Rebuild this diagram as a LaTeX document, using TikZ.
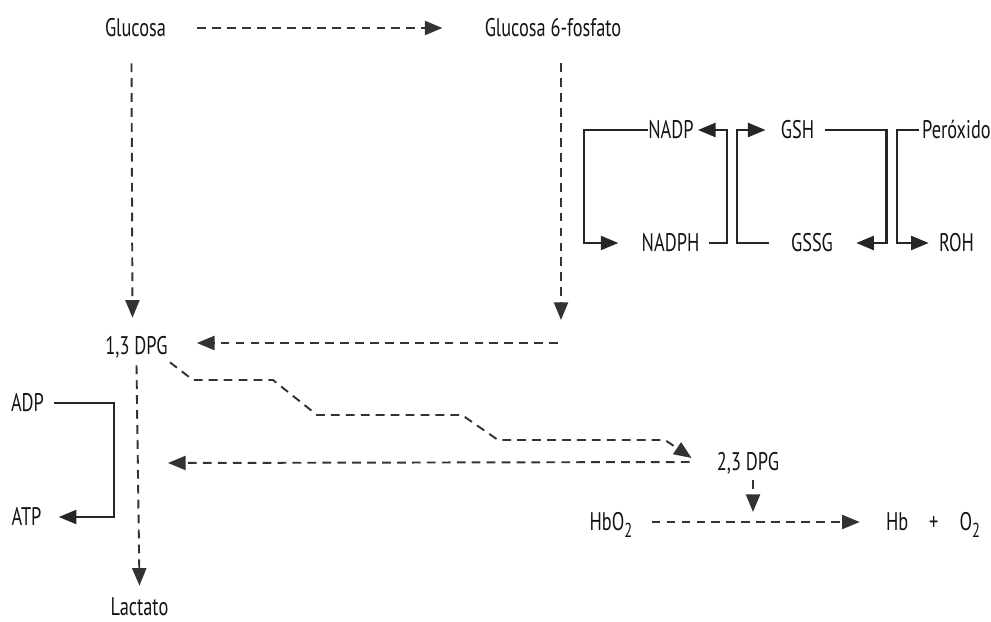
\documentclass[tikz,border=0pt]{standalone}
\usepackage{fontspec}
\setmainfont{PT Sans}[FakeStretch=0.72]
\usetikzlibrary{arrows.meta,calc}
\newcommand{\lowdigit}[1]{\raisebox{-0.5ex}{\fontsize{11.5}{12}\selectfont #1}}

\begin{document}
\begin{tikzpicture}[
    x=0.02cm, y=-0.02cm,
    metab/.style={inner sep=0pt, text height=10.2pt, text depth=0pt, font=\fontsize{14.5}{17}\selectfont, text=black!92},
    pathway/.style={-{Triangle[length=10pt,width=8pt]}, draw=black!80, line width=1.1pt, dash pattern=on 5pt off 3.5pt},
    redox/.style={-{Triangle[length=10pt,width=8pt]}, draw=black!85, line width=1.2pt}
]
\useasboundingbox (0,0) rectangle (991,622);

% Glycolysis
\node[metab] (gluc) at (135.5,28) {Glucosa};
\node[metab] (g6p) at (553,28) {Glucosa 6-fosfato};
\node[metab] (dpg13) at (136.5,346) {1,3 DPG};
\node[metab] (lact) at (139.5,607) {Lactato};
\node[metab] (adp) at (27.5,403) {ADP};
\node[metab] (atp) at (26.5,517) {ATP};

% Rapoport-Luebering shunt
\node[metab] (dpg23) at (748,462) {2,3 DPG};
\node[metab] (hbo2) at (611,522) {HbO\lowdigit{2}};
\node[metab] (hbo) at (933,522) {Hb\hspace{0.42cm}+\hspace{0.42cm}O\lowdigit{2}};

% Glutathione cycle
\node[metab] (nadp) at (671,130) {NADP};
\node[metab] (nadph) at (670.5,243) {NADPH};
\node[metab] (gsh) at (797.5,130) {GSH};
\node[metab] (gssg) at (812,243) {GSSG};
\node[metab] (perox) at (956.5,130) {Peróxido};
\node[metab] (roh) at (956.5,243) {ROH};

% Free ends
\coordinate (g6pend) at (561,320);
\coordinate (ppstart) at (558,343);
\coordinate (merge) at (168,463);
\coordinate (hbjoin) at (753,512);

% Dashed arrows
\draw[pathway, shorten <=0.62cm, shorten >=0.84cm] (gluc) -- (g6p);
\draw[pathway] ($(gluc.south)+(-4,26)$) -- ($(dpg13.north)+(-4,-19)$);
\draw[pathway] ($(g6p.south)+(8,26)$) -- (g6pend);
\draw[pathway] (ppstart) -- ($(dpg13.east)+(29,-3)$);
\draw[pathway] ($(dpg13.south east)+(2,7)$) -- (193,380) -- (273,380) -- (317,415)
    -- (462,415) -- (498,440) -- (665,440) -- ($(dpg23.west)+(-25,-4)$);
\draw[pathway] ($(dpg23.west)+(-27,0)$) -- (merge);
\draw[pathway] ($(dpg13.south)+(0,10)$) -- ($(lact.north)+(0,-12)$);
\draw[pathway] ($(dpg23.south)+(5,9)$) -- (hbjoin);
\draw[pathway, shorten <=0.38cm, shorten >=0.52cm] (hbo2.east) -- (hbo.west);

% Solid arrows
\draw[redox] (nadp.west) -- ++(-64,0) |- ($(nadph.west)+(-23,0)$);
\draw[redox] ($(nadph.east)+(9,0)$) -- ++(18,0) |- ($(nadp.east)+(4,0)$);
\draw[redox] ($(gssg.west)+(-22,0)$) -- ++(-32,0) |- ($(gsh.west)+(-15,0)$);
\draw[redox] ($(gsh.east)+(10,0)$) -- ++(62,0) |- ($(gssg.east)+(23,0)$);
\draw[redox] ($(perox.west)+(-3,0)$) -- ++(-22,0) |- ($(roh.west)+(-10,0)$);
\draw[redox] ($(adp.east)+(10,0)$) -- ++(60,0) |- ($(atp.east)+(17,0)$);

\end{tikzpicture}
\end{document}
